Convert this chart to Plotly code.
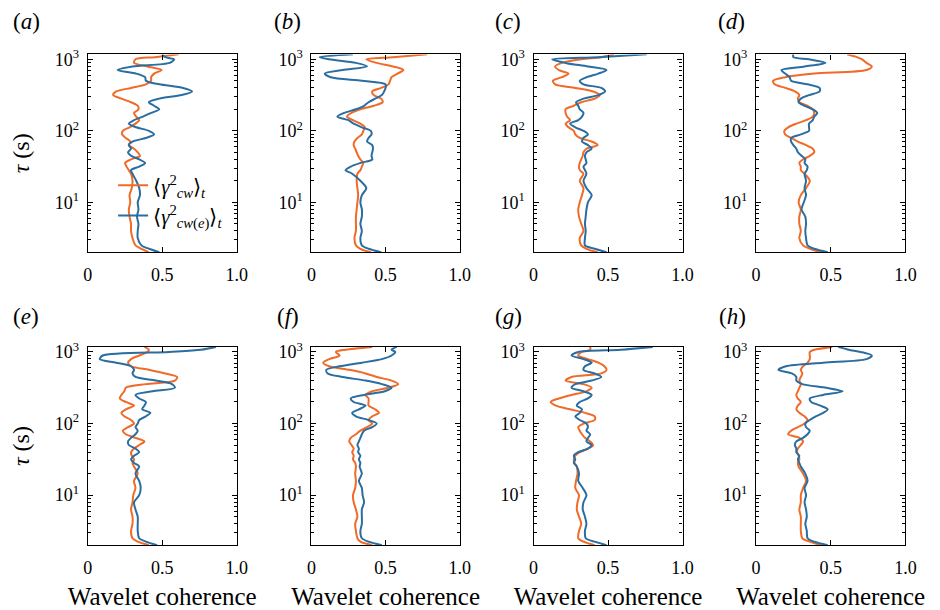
import plotly.graph_objects as go

# ---- data ----
TAU = [2.0, 2.24, 2.5, 3.16, 3.98, 5.01, 6.31, 7.94, 10, 12.6, 15.8, 20.0, 25.1, 28.2, 31.6, 35.5,
       39.8, 44.7, 50.1, 56.2, 63.1, 70.8, 79.4, 89.1, 100, 112, 126, 141, 158, 178, 200, 224,
       251, 282, 316, 355, 398, 447, 501, 562, 631, 708, 794, 891, 1000, 1072, 1175]

A_CW = [0.41, 0.36, 0.32, 0.30, 0.29, 0.29, 0.28, 0.275, 0.285, 0.28, 0.295, 0.30, 0.29, 0.275, 0.26, 0.25,
        0.29, 0.35, 0.335, 0.31, 0.275, 0.285, 0.255, 0.23, 0.235, 0.28, 0.32, 0.345, 0.325, 0.31, 0.34, 0.335,
        0.29, 0.225, 0.17, 0.19, 0.29, 0.39, 0.425, 0.425, 0.445, 0.495, 0.40, 0.31, 0.32, 0.45, 0.61]
A_CWE = [0.48, 0.41, 0.36, 0.335, 0.335, 0.34, 0.33, 0.34, 0.335, 0.35, 0.345, 0.325, 0.30, 0.29, 0.345, 0.385,
         0.345, 0.29, 0.27, 0.29, 0.275, 0.30, 0.39, 0.445, 0.41, 0.325, 0.275, 0.31, 0.37, 0.425, 0.48, 0.445,
         0.41, 0.48, 0.63, 0.70, 0.64, 0.48, 0.39, 0.385, 0.325, 0.20, 0.30, 0.55, 0.58, 0.52, 0.50]

B_CW = [0.40, 0.33, 0.30, 0.29, 0.30, 0.30, 0.30, 0.305, 0.31, 0.315, 0.31, 0.305, 0.31, 0.33, 0.34, 0.35,
        0.33, 0.315, 0.305, 0.295, 0.285, 0.29, 0.31, 0.34, 0.35, 0.36, 0.33, 0.28, 0.24, 0.27, 0.33, 0.42,
        0.48, 0.47, 0.42, 0.41, 0.47, 0.52, 0.53, 0.54, 0.58, 0.62, 0.55, 0.44, 0.37, 0.55, 0.78]
B_CWE = [0.47, 0.385, 0.34, 0.33, 0.34, 0.33, 0.34, 0.34, 0.33, 0.34, 0.37, 0.33, 0.275, 0.23, 0.265, 0.33,
         0.41, 0.405, 0.41, 0.415, 0.41, 0.375, 0.385, 0.405, 0.40, 0.34, 0.285, 0.25, 0.175, 0.22, 0.30, 0.355,
         0.385, 0.43, 0.475, 0.49, 0.50, 0.50, 0.34, 0.13, 0.09, 0.21, 0.375, 0.30, 0.12, 0.055, 0.28]

C_CW = [0.43, 0.355, 0.32, 0.31, 0.335, 0.32, 0.305, 0.30, 0.31, 0.325, 0.335, 0.31, 0.335, 0.31, 0.305, 0.31,
        0.32, 0.33, 0.335, 0.355, 0.43, 0.39, 0.31, 0.28, 0.27, 0.235, 0.215, 0.245, 0.225, 0.215, 0.215, 0.27,
        0.32, 0.41, 0.445, 0.40, 0.28, 0.145, 0.13, 0.19, 0.235, 0.17, 0.145, 0.19, 0.32, 0.455, 0.54]
C_CWE = [0.49, 0.41, 0.345, 0.345, 0.35, 0.345, 0.35, 0.355, 0.365, 0.39, 0.355, 0.335, 0.355, 0.345, 0.335, 0.355,
         0.35, 0.345, 0.355, 0.39, 0.365, 0.325, 0.335, 0.365, 0.335, 0.28, 0.245, 0.30, 0.325, 0.335, 0.31, 0.30,
         0.285, 0.335, 0.435, 0.48, 0.455, 0.335, 0.31, 0.355, 0.435, 0.49, 0.365, 0.215, 0.125, 0.435, 0.76]

D_CW = [0.435, 0.36, 0.315, 0.29, 0.30, 0.29, 0.29, 0.30, 0.285, 0.30, 0.335, 0.36, 0.325, 0.30, 0.30, 0.29,
        0.315, 0.36, 0.39, 0.38, 0.335, 0.28, 0.235, 0.195, 0.19, 0.215, 0.27, 0.335, 0.38, 0.39, 0.38, 0.345,
        0.29, 0.28, 0.29, 0.26, 0.195, 0.125, 0.115, 0.195, 0.39, 0.74, 0.775, 0.74, 0.71, 0.675, 0.61]
D_CWE = [0.48, 0.39, 0.345, 0.335, 0.33, 0.335, 0.33, 0.305, 0.32, 0.335, 0.325, 0.335, 0.325, 0.34, 0.345, 0.325,
         0.33, 0.305, 0.28, 0.27, 0.25, 0.235, 0.235, 0.30, 0.355, 0.355, 0.355, 0.38, 0.39, 0.41, 0.38, 0.325,
         0.285, 0.30, 0.355, 0.425, 0.425, 0.345, 0.235, 0.225, 0.195, 0.17, 0.325, 0.465, 0.355, 0.25, 0.25]

E_CW = [0.41, 0.335, 0.30, 0.29, 0.30, 0.30, 0.29, 0.30, 0.305, 0.32, 0.31, 0.335, 0.31, 0.30, 0.31, 0.295,
        0.29, 0.31, 0.345, 0.38, 0.32, 0.255, 0.235, 0.27, 0.31, 0.29, 0.245, 0.225, 0.255, 0.31, 0.255, 0.215,
        0.225, 0.245, 0.255, 0.39, 0.585, 0.60, 0.52, 0.41, 0.29, 0.27, 0.29, 0.345, 0.40, 0.41, 0.38]
E_CWE = [0.465, 0.39, 0.345, 0.335, 0.335, 0.335, 0.32, 0.31, 0.345, 0.355, 0.345, 0.32, 0.345, 0.31, 0.29, 0.31,
         0.345, 0.32, 0.275, 0.27, 0.29, 0.32, 0.335, 0.32, 0.335, 0.345, 0.39, 0.42, 0.365, 0.38, 0.39, 0.345,
         0.32, 0.435, 0.585, 0.565, 0.455, 0.32, 0.30, 0.31, 0.29, 0.19, 0.08, 0.10, 0.545, 0.76, 0.86]

F_CW = [0.41, 0.33, 0.31, 0.30, 0.295, 0.31, 0.30, 0.285, 0.28, 0.295, 0.30, 0.295, 0.30, 0.295, 0.28, 0.285,
        0.275, 0.285, 0.27, 0.255, 0.265, 0.30, 0.33, 0.375, 0.41, 0.385, 0.41, 0.455, 0.43, 0.385, 0.385, 0.385,
        0.365, 0.41, 0.52, 0.585, 0.54, 0.44, 0.365, 0.255, 0.12, 0.08, 0.12, 0.19, 0.165, 0.23, 0.41]
F_CWE = [0.475, 0.385, 0.34, 0.33, 0.34, 0.34, 0.34, 0.355, 0.345, 0.34, 0.32, 0.34, 0.325, 0.33, 0.32, 0.33,
         0.315, 0.32, 0.31, 0.32, 0.33, 0.34, 0.355, 0.41, 0.44, 0.385, 0.30, 0.275, 0.32, 0.365, 0.285, 0.265,
         0.355, 0.495, 0.54, 0.475, 0.365, 0.21, 0.11, 0.10, 0.19, 0.34, 0.475, 0.54, 0.565, 0.54, 0.575]

G_CW = [0.41, 0.335, 0.30, 0.305, 0.32, 0.305, 0.29, 0.295, 0.305, 0.28, 0.285, 0.295, 0.29, 0.275, 0.27, 0.28,
        0.31, 0.365, 0.40, 0.38, 0.345, 0.325, 0.31, 0.30, 0.335, 0.41, 0.41, 0.345, 0.245, 0.15, 0.115, 0.17,
        0.255, 0.355, 0.39, 0.335, 0.215, 0.255, 0.455, 0.49, 0.475, 0.435, 0.365, 0.30, 0.325, 0.38, 0.38]
G_CWE = [0.49, 0.41, 0.35, 0.345, 0.355, 0.345, 0.33, 0.335, 0.355, 0.33, 0.30, 0.305, 0.29, 0.27, 0.28, 0.27,
         0.30, 0.365, 0.39, 0.355, 0.365, 0.38, 0.355, 0.365, 0.355, 0.31, 0.28, 0.31, 0.325, 0.29, 0.31, 0.365,
         0.39, 0.335, 0.255, 0.28, 0.39, 0.455, 0.41, 0.335, 0.345, 0.39, 0.335, 0.255, 0.30, 0.585, 0.80]

H_CW = [0.435, 0.36, 0.31, 0.30, 0.30, 0.30, 0.29, 0.30, 0.30, 0.315, 0.335, 0.315, 0.285, 0.28, 0.29, 0.285,
        0.275, 0.28, 0.30, 0.315, 0.29, 0.215, 0.235, 0.28, 0.325, 0.345, 0.325, 0.29, 0.27, 0.28, 0.30, 0.28,
        0.27, 0.28, 0.29, 0.30, 0.29, 0.30, 0.31, 0.30, 0.315, 0.345, 0.36, 0.36, 0.36, 0.39, 0.51]
H_CWE = [0.48, 0.39, 0.345, 0.34, 0.33, 0.34, 0.335, 0.325, 0.335, 0.325, 0.345, 0.33, 0.30, 0.29, 0.28, 0.29,
         0.27, 0.27, 0.26, 0.27, 0.315, 0.345, 0.36, 0.335, 0.33, 0.36, 0.40, 0.45, 0.48, 0.43, 0.37, 0.36,
         0.45, 0.58, 0.47, 0.31, 0.27, 0.27, 0.24, 0.15, 0.20, 0.45, 0.74, 0.775, 0.70, 0.62, 0.55]

PANELS = ["a", "b", "c", "d", "e", "f", "g", "h"]
SERIES_CW = [A_CW, B_CW, C_CW, D_CW, E_CW, F_CW, G_CW, H_CW]
SERIES_CWE = [A_CWE, B_CWE, C_CWE, D_CWE, E_CWE, F_CWE, G_CWE, H_CWE]

X_TICKS = [0, 0.5, 1.0]
X_TICKTEXT = ["0", "0.5", "1.0"]
Y_TICKS = [10, 100, 1000]
Y_TICKTEXT = ["10<sup>1</sup>", "10<sup>2</sup>", "10<sup>3</sup>"]
Y_MINOR = [2, 3, 4, 5, 6, 7, 8, 9, 20, 30, 40, 50, 60, 70, 80, 90, 200, 300, 400, 500, 600, 700, 800, 900]

NAME_CW = "⟨<i>γ</i><sup>2</sup><sub><i>cw</i></sub>⟩<sub><i>t</i></sub>"
NAME_CWE = "⟨<i>γ</i><sup>2</sup><sub><i>cw</i>(<i>e</i>)</sub>⟩<sub><i>t</i></sub>"

# ---- style ----
ORANGE = "#F06A28"
BLUE = "#2A6DA0"
FONT = "Liberation Serif"
W, H = 940, 610
X_DOM = [(84.3, 235.7), (311.7, 462.7), (537.7, 689.3), (764.0, 916.0)]
Y_DOM = [(48.0, 248.0), (344.0, 544.3)]
LABEL_POS = [(22, 15), (287, 15), (512, 15), (739, 15),
             (21, 313), (288, 313), (512, 313), (740, 313)]

fig = go.Figure()
layout = dict(
    width=W, height=H, margin=dict(l=0, r=0, t=0, b=0),
    paper_bgcolor="white", plot_bgcolor="white",
    font=dict(family=FONT, size=17, color="black"),
    showlegend=True,
    legend=dict(x=110 / W, y=1 - 160 / H, xanchor="left", yanchor="top",
                bgcolor="rgba(0,0,0,0)", font=dict(family=FONT, size=21),
                tracegroupgap=0),
)

annotations = []
for i, p in enumerate(PANELS):
    r, c = divmod(i, 4)
    k = i + 1
    xa = "x" if k == 1 else f"x{k}"
    ya = "y" if k == 1 else f"y{k}"
    fig.add_trace(go.Scatter(x=SERIES_CW[i], y=TAU, mode="lines", xaxis=xa, yaxis=ya,
                             line=dict(color=ORANGE, width=2, shape="spline", smoothing=0.8),
                             name=NAME_CW, showlegend=(i == 0), hoverinfo="skip"))
    fig.add_trace(go.Scatter(x=SERIES_CWE[i], y=TAU, mode="lines", xaxis=xa, yaxis=ya,
                             line=dict(color=BLUE, width=2, shape="spline", smoothing=0.8),
                             name=NAME_CWE, showlegend=(i == 0), hoverinfo="skip"))
    x0, x1 = X_DOM[c]
    y0, y1 = Y_DOM[r]
    xkey = "xaxis" if k == 1 else f"xaxis{k}"
    ykey = "yaxis" if k == 1 else f"yaxis{k}"
    xax = dict(
        domain=[x0 / W, x1 / W], anchor=ya, range=[0, 1],
        tickvals=X_TICKS, ticktext=X_TICKTEXT, ticks="inside", ticklen=5, tickwidth=1,
        tickcolor="black", showline=True, linecolor="black", linewidth=1.2, mirror="ticks",
        showgrid=False, zeroline=False, ticklabelstandoff=6,
        tickfont=dict(family=FONT, size=18),
    )
    if r == 1:
        xax["title"] = dict(text="Wavelet coherence", font=dict(family=FONT, size=25), standoff=12)
    yax = dict(
        domain=[1 - y1 / H, 1 - y0 / H], anchor=xa, type="log", range=[0.303, 3.068],
        tickvals=Y_TICKS, ticktext=Y_TICKTEXT, ticks="inside", ticklen=5, tickwidth=1,
        tickcolor="black", showline=True, linecolor="black", linewidth=1.2, mirror="ticks",
        showgrid=False, zeroline=False, ticklabelstandoff=4,
        minor=dict(tickvals=Y_MINOR, ticks="inside", ticklen=3, tickwidth=1, tickcolor="black",
                   showgrid=False),
        tickfont=dict(family=FONT, size=18),
    )
    if c == 0:
        yax["title"] = dict(text="<i>τ</i> (s)", font=dict(family=FONT, size=24), standoff=18)
    layout[xkey] = xax
    layout[ykey] = yax
    lx, ly = LABEL_POS[i]
    annotations.append(dict(text=f"(<i>{p}</i>)", x=lx / W, y=1 - ly / H, xref="paper", yref="paper",
                            xanchor="center", yanchor="middle", showarrow=False,
                            font=dict(family=FONT, size=23, color="black")))

layout["annotations"] = annotations
fig.update_layout(**layout)
fig.write_html("out.html")
